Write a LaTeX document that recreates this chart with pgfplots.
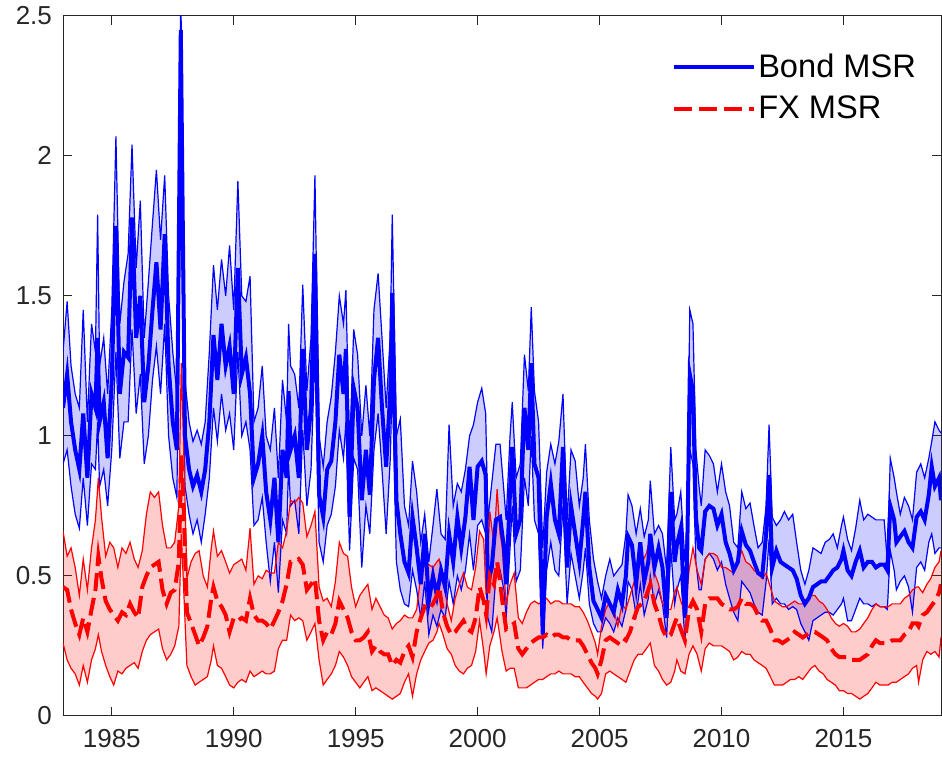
\documentclass[border=0pt]{standalone}
\usepackage{fontspec}
\setmainfont{Liberation Sans}
\usepackage{pgfplots}
\usepackage{pgfplotstable}
\pgfplotsset{compat=1.18}
\usepgfplotslibrary{fillbetween}
\definecolor{axgray}{rgb}{0.15,0.15,0.15}

\pgfplotstableread{
x c lo hi
1983.00 1.10 0.90 1.30
1983.17 1.22 0.95 1.48
1983.33 1.05 0.82 1.25
1983.50 0.95 0.72 1.15
1983.67 0.88 0.67 1.10
1983.83 1.08 0.85 1.45
1984.00 0.85 0.68 1.05
1984.17 1.15 0.90 1.40
1984.33 1.10 0.88 1.30
1984.42 1.35 1.05 1.79
1984.50 1.05 0.82 1.25
1984.67 1.12 0.88 1.35
1984.83 0.92 0.75 1.15
1985.00 1.20 0.95 1.45
1985.17 1.75 1.30 2.07
1985.33 1.15 0.92 1.40
1985.50 1.30 1.05 1.55
1985.67 1.28 1.05 1.65
1985.83 1.78 1.38 2.04
1986.00 1.35 1.08 1.60
1986.17 1.50 1.22 1.84
1986.33 1.12 0.90 1.35
1986.50 1.25 1.00 1.55
1986.67 1.45 1.20 1.76
1986.83 1.62 1.32 1.95
1987.00 1.38 1.15 1.70
1987.17 1.72 1.40 1.93
1987.33 1.25 1.00 1.50
1987.50 1.05 0.85 1.30
1987.67 0.95 0.78 1.15
1987.83 2.45 2.00 2.60
1988.00 1.00 0.82 1.20
1988.17 0.88 0.72 1.05
1988.33 0.82 0.65 0.98
1988.50 0.86 0.70 1.02
1988.67 0.80 0.62 0.97
1988.83 0.88 0.72 1.05
1989.00 1.05 0.85 1.30
1989.17 1.36 1.10 1.61
1989.33 1.20 0.98 1.45
1989.50 1.40 1.15 1.63
1989.67 1.25 1.02 1.50
1989.83 1.32 1.08 1.68
1990.00 1.15 0.95 1.45
1990.17 1.60 1.30 1.91
1990.33 1.22 1.00 1.50
1990.50 1.28 1.05 1.48
1990.67 1.15 0.95 1.57
1990.83 0.85 0.68 1.05
1991.00 0.90 0.70 1.10
1991.17 1.00 0.78 1.25
1991.33 0.80 0.62 1.00
1991.50 0.70 0.48 0.95
1991.67 0.85 0.62 1.10
1991.83 0.62 0.44 0.85
1992.00 0.95 0.70 1.20
1992.17 0.85 0.65 1.05
1992.25 1.16 0.90 1.40
1992.33 0.95 0.75 1.25
1992.50 1.00 0.77 1.22
1992.67 0.85 0.65 1.10
1992.83 1.31 1.02 1.54
1993.00 0.95 0.75 1.16
1993.17 1.10 0.88 1.35
1993.33 1.65 1.30 1.93
1993.50 0.79 0.62 1.00
1993.67 0.71 0.55 0.89
1993.83 0.88 0.68 1.05
1994.00 0.91 0.72 1.14
1994.17 1.05 0.82 1.30
1994.33 1.29 1.02 1.50
1994.50 1.15 0.92 1.40
1994.60 1.31 1.05 1.52
1994.75 0.71 0.59 0.95
1994.92 1.17 0.92 1.38
1995.08 1.10 0.88 1.29
1995.25 0.77 0.53 1.00
1995.42 0.95 0.75 1.18
1995.58 0.79 0.65 1.00
1995.75 1.20 0.95 1.45
1995.92 1.35 1.08 1.58
1996.08 1.10 0.88 1.35
1996.25 0.89 0.65 1.10
1996.42 1.16 0.92 1.36
1996.50 1.51 1.20 1.79
1996.67 0.77 0.55 1.00
1996.83 0.65 0.45 1.06
1997.00 0.55 0.40 0.75
1997.17 0.51 0.39 0.68
1997.33 0.71 0.52 0.91
1997.50 0.60 0.45 0.80
1997.67 0.47 0.35 0.62
1997.83 0.65 0.48 0.72
1998.00 0.41 0.29 0.55
1998.17 0.50 0.36 0.68
1998.33 0.43 0.32 0.81
1998.50 0.52 0.38 0.65
1998.67 0.46 0.35 0.63
1998.83 0.65 0.48 1.04
1999.00 0.55 0.40 0.75
1999.17 0.71 0.50 0.83
1999.33 0.60 0.45 0.80
1999.50 0.71 0.52 0.88
1999.67 0.89 0.65 1.00
1999.83 0.70 0.52 1.04
2000.00 0.89 0.68 1.12
2000.17 0.91 0.70 1.17
2000.33 0.86 0.65 1.08
2000.42 0.47 0.35 0.70
2000.58 0.53 0.30 0.83
2000.75 0.70 0.50 0.97
2000.92 0.71 0.52 0.97
2001.08 0.60 0.45 0.80
2001.17 0.47 0.35 0.70
2001.33 0.80 0.60 1.00
2001.42 0.96 0.75 1.12
2001.58 0.65 0.48 0.85
2001.75 0.70 0.52 0.90
2001.92 1.10 0.85 1.29
2002.08 0.95 0.75 1.16
2002.20 1.26 1.00 1.46
2002.33 0.90 0.70 1.16
2002.50 0.85 0.65 1.05
2002.67 0.29 0.24 0.60
2002.83 0.71 0.52 0.87
2003.00 0.83 0.62 0.97
2003.17 0.70 0.52 0.90
2003.33 0.65 0.50 0.98
2003.50 0.96 0.75 1.15
2003.67 0.53 0.40 0.70
2003.83 0.75 0.58 0.95
2004.00 0.65 0.50 0.91
2004.17 0.55 0.42 0.75
2004.33 0.70 0.52 0.85
2004.42 0.80 0.60 0.97
2004.58 0.53 0.40 0.70
2004.75 0.41 0.33 0.56
2004.92 0.38 0.30 0.48
2005.08 0.35 0.30 0.42
2005.25 0.43 0.35 0.50
2005.42 0.40 0.33 0.56
2005.58 0.37 0.30 0.50
2005.75 0.45 0.35 0.52
2005.92 0.40 0.32 0.54
2006.08 0.50 0.38 0.65
2006.17 0.64 0.48 0.79
2006.33 0.61 0.45 0.75
2006.50 0.47 0.36 0.65
2006.67 0.62 0.47 0.74
2006.83 0.48 0.36 0.64
2007.00 0.55 0.42 0.70
2007.08 0.65 0.50 0.84
2007.25 0.53 0.40 0.65
2007.42 0.60 0.45 0.68
2007.58 0.53 0.40 0.65
2007.75 0.35 0.28 0.52
2007.92 0.80 0.60 0.96
2008.08 0.55 0.40 0.70
2008.17 0.61 0.45 0.72
2008.33 0.67 0.50 0.80
2008.50 0.35 0.27 0.55
2008.58 0.50 0.38 0.68
2008.70 1.22 0.95 1.45
2008.83 1.16 0.90 1.40
2008.95 0.71 0.55 0.95
2009.08 0.60 0.45 0.82
2009.17 0.59 0.45 0.75
2009.33 0.73 0.56 0.95
2009.50 0.75 0.58 0.93
2009.67 0.74 0.56 0.90
2009.83 0.68 0.52 0.80
2010.00 0.72 0.55 0.90
2010.17 0.62 0.47 0.80
2010.33 0.58 0.42 0.75
2010.50 0.52 0.37 0.62
2010.67 0.55 0.34 0.60
2010.83 0.66 0.48 0.80
2011.00 0.61 0.46 0.74
2011.17 0.59 0.44 0.76
2011.33 0.55 0.40 0.68
2011.50 0.51 0.37 0.60
2011.67 0.50 0.36 0.62
2011.83 0.65 0.48 0.75
2011.95 0.86 0.63 1.04
2012.08 0.53 0.40 0.71
2012.25 0.59 0.42 0.68
2012.42 0.55 0.40 0.70
2012.58 0.54 0.40 0.73
2012.75 0.53 0.38 0.70
2012.92 0.52 0.39 0.72
2013.08 0.49 0.38 0.62
2013.25 0.43 0.33 0.52
2013.42 0.40 0.30 0.47
2013.58 0.42 0.27 0.52
2013.75 0.46 0.34 0.60
2013.92 0.47 0.35 0.59
2014.08 0.48 0.36 0.58
2014.25 0.48 0.37 0.62
2014.42 0.50 0.37 0.63
2014.58 0.52 0.36 0.65
2014.75 0.53 0.38 0.60
2014.92 0.56 0.40 0.68
2015.00 0.59 0.42 0.71
2015.17 0.52 0.34 0.63
2015.33 0.50 0.34 0.59
2015.50 0.55 0.38 0.67
2015.67 0.59 0.42 0.77
2015.83 0.53 0.40 0.70
2016.00 0.55 0.40 0.72
2016.17 0.55 0.39 0.71
2016.33 0.53 0.40 0.70
2016.50 0.54 0.39 0.70
2016.67 0.54 0.39 0.70
2016.80 0.52 0.38 0.55
2016.92 0.75 0.59 0.92
2017.08 0.70 0.52 0.85
2017.17 0.62 0.45 0.80
2017.33 0.64 0.48 0.72
2017.50 0.66 0.50 0.78
2017.67 0.62 0.46 0.75
2017.83 0.60 0.37 0.70
2018.00 0.71 0.53 0.87
2018.17 0.73 0.55 0.90
2018.33 0.70 0.52 0.85
2018.50 0.79 0.62 0.92
2018.62 0.89 0.65 0.98
2018.75 0.82 0.58 1.05
2018.92 0.85 0.60 1.02
2019.00 0.77 0.60 1.01
}\bond

\pgfplotstableread{
x c lo hi
1983.00 0.46 0.26 0.66
1983.17 0.45 0.20 0.57
1983.33 0.38 0.17 0.60
1983.50 0.33 0.15 0.53
1983.67 0.29 0.11 0.43
1983.83 0.35 0.18 0.56
1984.00 0.30 0.12 0.45
1984.17 0.38 0.20 0.60
1984.33 0.45 0.24 0.70
1984.45 0.57 0.29 0.85
1984.58 0.49 0.23 0.71
1984.75 0.41 0.18 0.57
1984.92 0.38 0.14 0.62
1985.08 0.36 0.11 0.60
1985.25 0.34 0.16 0.53
1985.42 0.37 0.15 0.60
1985.58 0.36 0.17 0.58
1985.75 0.40 0.18 0.62
1985.92 0.37 0.19 0.56
1986.08 0.35 0.17 0.53
1986.25 0.46 0.23 0.59
1986.42 0.50 0.27 0.72
1986.58 0.53 0.29 0.80
1986.75 0.54 0.30 0.78
1986.92 0.55 0.31 0.80
1987.08 0.45 0.24 0.68
1987.25 0.40 0.20 0.60
1987.42 0.44 0.22 0.60
1987.58 0.45 0.25 0.62
1987.75 0.55 0.32 0.75
1987.85 0.93 0.65 1.26
1987.95 0.74 0.45 0.95
1988.08 0.37 0.18 0.49
1988.25 0.33 0.14 0.55
1988.42 0.29 0.11 0.58
1988.58 0.25 0.12 0.59
1988.75 0.28 0.13 0.50
1988.92 0.32 0.14 0.46
1989.08 0.42 0.20 0.60
1989.17 0.46 0.25 0.66
1989.33 0.41 0.18 0.57
1989.50 0.39 0.17 0.59
1989.67 0.36 0.14 0.55
1989.83 0.30 0.11 0.51
1990.00 0.35 0.10 0.54
1990.17 0.34 0.12 0.55
1990.33 0.35 0.13 0.56
1990.50 0.34 0.12 0.52
1990.67 0.42 0.16 0.67
1990.83 0.36 0.14 0.47
1991.00 0.34 0.15 0.50
1991.17 0.34 0.16 0.49
1991.33 0.33 0.15 0.52
1991.50 0.31 0.15 0.51
1991.67 0.34 0.16 0.51
1991.83 0.37 0.24 0.62
1992.00 0.41 0.27 0.60
1992.17 0.47 0.27 0.66
1992.33 0.55 0.36 0.77
1992.50 0.55 0.34 0.76
1992.67 0.56 0.35 0.78
1992.83 0.54 0.34 0.76
1993.00 0.45 0.27 0.64
1993.17 0.47 0.30 0.68
1993.33 0.49 0.33 0.73
1993.50 0.34 0.20 0.46
1993.67 0.27 0.11 0.41
1993.83 0.30 0.13 0.42
1994.00 0.29 0.15 0.39
1994.17 0.33 0.18 0.48
1994.33 0.41 0.23 0.62
1994.50 0.38 0.21 0.58
1994.67 0.35 0.18 0.57
1994.83 0.30 0.14 0.46
1995.00 0.27 0.12 0.39
1995.17 0.27 0.10 0.43
1995.33 0.28 0.12 0.45
1995.50 0.30 0.14 0.47
1995.67 0.23 0.09 0.38
1995.83 0.25 0.10 0.42
1996.00 0.23 0.09 0.39
1996.17 0.22 0.08 0.36
1996.33 0.22 0.07 0.35
1996.50 0.18 0.06 0.31
1996.67 0.20 0.07 0.33
1996.83 0.19 0.08 0.34
1997.00 0.23 0.12 0.36
1997.17 0.25 0.15 0.35
1997.33 0.21 0.07 0.35
1997.50 0.30 0.15 0.38
1997.67 0.35 0.20 0.50
1997.83 0.39 0.23 0.54
1998.00 0.38 0.26 0.54
1998.17 0.40 0.27 0.53
1998.33 0.43 0.30 0.55
1998.42 0.46 0.33 0.56
1998.58 0.37 0.29 0.49
1998.75 0.32 0.24 0.40
1998.92 0.29 0.22 0.34
1999.08 0.30 0.18 0.42
1999.25 0.32 0.16 0.47
1999.42 0.34 0.15 0.51
1999.58 0.31 0.17 0.46
1999.75 0.30 0.18 0.45
1999.92 0.35 0.23 0.53
2000.08 0.46 0.34 0.66
2000.25 0.41 0.23 0.63
2000.35 0.36 0.15 0.43
2000.50 0.50 0.25 0.73
2000.67 0.47 0.30 0.61
2000.80 0.55 0.35 0.81
2000.92 0.48 0.28 0.65
2001.00 0.42 0.23 0.61
2001.17 0.31 0.16 0.40
2001.33 0.32 0.17 0.47
2001.50 0.33 0.17 0.51
2001.67 0.24 0.10 0.35
2001.83 0.22 0.10 0.33
2002.00 0.24 0.10 0.37
2002.17 0.26 0.11 0.40
2002.33 0.27 0.12 0.41
2002.50 0.28 0.13 0.40
2002.67 0.28 0.13 0.41
2002.83 0.29 0.14 0.42
2003.00 0.28 0.15 0.40
2003.17 0.29 0.15 0.41
2003.33 0.29 0.16 0.41
2003.50 0.28 0.15 0.40
2003.67 0.28 0.15 0.40
2003.83 0.27 0.15 0.40
2004.00 0.27 0.14 0.39
2004.17 0.27 0.14 0.39
2004.33 0.25 0.12 0.37
2004.50 0.22 0.10 0.34
2004.67 0.19 0.08 0.30
2004.83 0.17 0.07 0.26
2004.92 0.15 0.06 0.22
2005.08 0.20 0.08 0.32
2005.25 0.27 0.15 0.38
2005.42 0.28 0.16 0.41
2005.58 0.27 0.15 0.38
2005.75 0.26 0.14 0.32
2005.92 0.28 0.13 0.40
2006.08 0.27 0.12 0.38
2006.25 0.30 0.16 0.43
2006.42 0.35 0.20 0.48
2006.58 0.39 0.22 0.56
2006.75 0.40 0.22 0.55
2006.92 0.43 0.24 0.58
2007.08 0.47 0.26 0.64
2007.25 0.40 0.18 0.51
2007.42 0.36 0.16 0.47
2007.58 0.31 0.13 0.40
2007.75 0.28 0.11 0.38
2007.92 0.29 0.12 0.38
2008.08 0.33 0.16 0.44
2008.17 0.35 0.20 0.46
2008.33 0.31 0.16 0.41
2008.50 0.27 0.15 0.37
2008.67 0.38 0.22 0.52
2008.83 0.41 0.25 0.60
2009.00 0.38 0.22 0.52
2009.17 0.30 0.16 0.47
2009.33 0.40 0.24 0.56
2009.50 0.42 0.26 0.58
2009.67 0.42 0.25 0.58
2009.83 0.42 0.25 0.57
2010.00 0.40 0.25 0.53
2010.17 0.39 0.24 0.53
2010.33 0.38 0.23 0.52
2010.50 0.38 0.20 0.51
2010.67 0.39 0.21 0.55
2010.83 0.42 0.23 0.59
2011.00 0.40 0.22 0.55
2011.17 0.40 0.22 0.54
2011.33 0.39 0.20 0.52
2011.50 0.36 0.19 0.51
2011.67 0.34 0.18 0.49
2011.83 0.34 0.17 0.51
2012.00 0.31 0.14 0.46
2012.17 0.27 0.11 0.41
2012.33 0.27 0.11 0.40
2012.50 0.26 0.11 0.39
2012.67 0.27 0.12 0.39
2012.83 0.28 0.13 0.40
2013.00 0.30 0.13 0.41
2013.17 0.29 0.14 0.40
2013.33 0.28 0.13 0.40
2013.50 0.29 0.15 0.42
2013.67 0.30 0.17 0.43
2013.83 0.30 0.18 0.43
2014.00 0.29 0.16 0.41
2014.17 0.28 0.15 0.40
2014.33 0.27 0.13 0.38
2014.50 0.24 0.12 0.35
2014.67 0.22 0.11 0.33
2014.83 0.21 0.09 0.32
2015.00 0.21 0.09 0.33
2015.17 0.21 0.08 0.32
2015.33 0.20 0.08 0.30
2015.50 0.20 0.07 0.30
2015.67 0.20 0.06 0.31
2015.83 0.21 0.07 0.33
2016.00 0.22 0.08 0.35
2016.17 0.25 0.10 0.38
2016.33 0.27 0.12 0.40
2016.50 0.26 0.11 0.39
2016.67 0.26 0.11 0.39
2016.83 0.26 0.11 0.39
2017.00 0.27 0.12 0.40
2017.17 0.27 0.12 0.40
2017.33 0.27 0.13 0.40
2017.50 0.29 0.14 0.42
2017.67 0.30 0.15 0.43
2017.83 0.33 0.17 0.45
2018.00 0.33 0.18 0.46
2018.08 0.32 0.12 0.46
2018.25 0.36 0.20 0.44
2018.42 0.37 0.23 0.47
2018.58 0.39 0.22 0.49
2018.75 0.41 0.23 0.53
2018.92 0.44 0.21 0.55
2019.00 0.47 0.28 0.59
}\fx

\begin{document}
\begin{tikzpicture}
\begin{axis}[
  at={(31.5pt,23.5pt)}, anchor=south west,
  scale only axis, width=439pt, height=350pt,
  xmin=1983, xmax=2019, ymin=0, ymax=2.5,
  xtick={1985,1990,...,2015},
  ytick={0,0.5,...,2.5},
  /pgf/number format/1000 sep={},
  /pgf/number format/assume math mode=true,
  tick align=inside, major tick length=4.6pt,
  axis line style={axgray, line width=0.5pt},
  tick style={axgray, line width=0.5pt},
  ticklabel style={font=\fontsize{13}{15}\selectfont, text=axgray},
  yticklabel style={xshift=-2pt},
  xticklabel style={yshift=-3pt},
  legend style={at={(axis description cs:0.693,0.95)}, anchor=north west,
    draw=none, fill=none, inner sep=0pt, row sep=5.5pt,
    font=\fontsize{16.3}{19}\selectfont,
    nodes={inner sep=1.2pt}},
  legend cell align=left,
  legend image code/.code={\draw[#1] (0pt,0pt) -- (40pt,0pt);},
]
\addplot[name path=bhi, blue, line width=0.6pt, forget plot] table[x=x,y=hi]{\bond};
\addplot[name path=blo, blue, line width=0.6pt, forget plot] table[x=x,y=lo]{\bond};
\addplot[fill=blue, fill opacity=0.2, draw=none, forget plot] fill between[of=bhi and blo];
\addplot[name path=fhi, red, line width=0.6pt, forget plot] table[x=x,y=hi]{\fx};
\addplot[name path=flo, red, line width=0.6pt, forget plot] table[x=x,y=lo]{\fx};
\addplot[fill=red, fill opacity=0.2, draw=none, forget plot] fill between[of=fhi and flo];
\addplot[blue, line width=2pt] table[x=x,y=c]{\bond};
\addlegendentry{Bond MSR}
\addplot[red, line width=2pt, dash pattern=on 9pt off 3.5pt] table[x=x,y=c]{\fx};
\addlegendentry{FX MSR}
\end{axis}
\path (0,0) rectangle (471pt,381pt);
\end{tikzpicture}
\end{document}
